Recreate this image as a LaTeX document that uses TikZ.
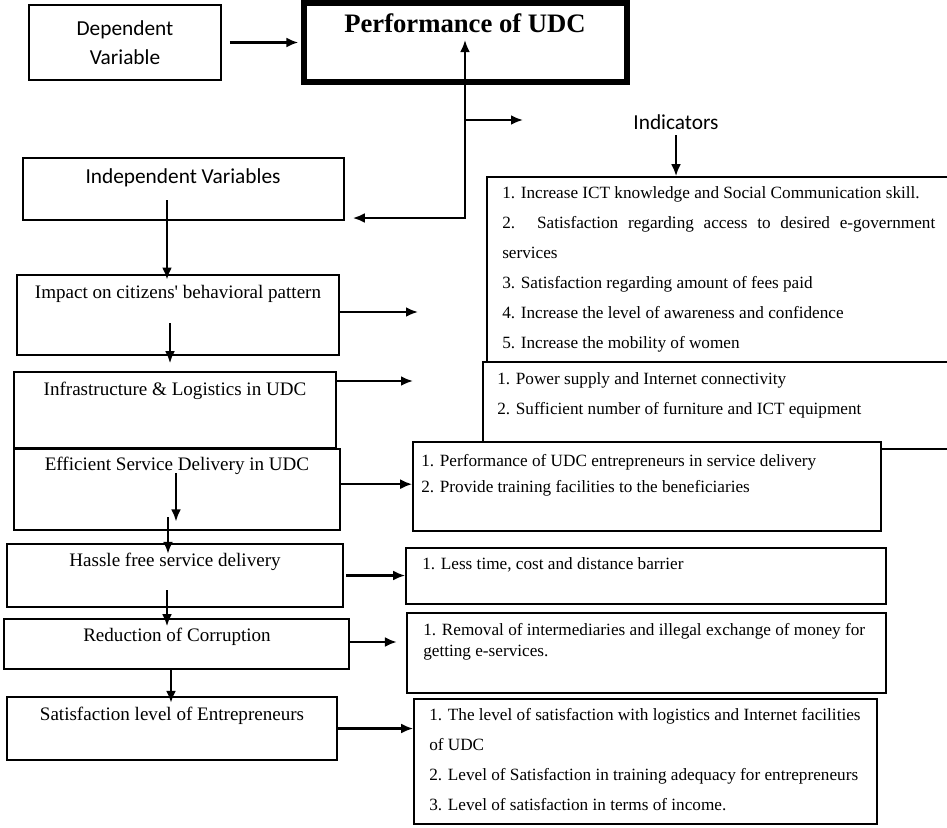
\documentclass[tikz,border=0pt]{standalone}
\usepackage{fontspec}
\setmainfont{Liberation Serif}
\newfontfamily\calibri{Carlito}
\usepackage{tikz}
\usetikzlibrary{arrows.meta,positioning,fit}

\tikzset{
  box/.style={draw, line width=1.2pt, inner sep=0pt, fill=white},
  thickbox/.style={draw, line width=4.5pt, inner sep=0pt},
  lbl/.style={font=\fontsize{14.3}{17}\selectfont, inner sep=0pt, text height=1.5ex, text depth=.25ex},
  sanslbl/.style={font=\calibri\fontsize{16}{21.75}\selectfont, inner sep=0pt, align=center},
  titlelbl/.style={font=\bfseries\fontsize{20}{24}\selectfont, inner sep=0pt},
  item/.style={font=\fontsize{12.9}{15}\selectfont, inner sep=0pt, anchor=west, text height=1.5ex, text depth=.25ex},
  arr/.style={-{Latex[length=9pt,width=7.5pt]}, line width=1.8pt},
  dblarr/.style={{Latex[length=9pt,width=7.5pt]}-{Latex[length=9pt,width=7.5pt]}, line width=1.8pt},
}

\begin{document}
\begin{tikzpicture}[x=0.75pt,y=-0.75pt]
        % Frame
        \useasboundingbox (0,0) rectangle (947,828);
        \clip (0,0) rectangle (947,828);

        % Dependent variable
        \node[box, fit={(29,5) (221,80)}] (depbox) {};
        \node[sanslbl] (deptxt) at (125,43) {Dependent\\Variable};
        \node[thickbox, fit={(304,3) (627,82)}] (perfbox) {};
        \node[titlelbl, anchor=base] (perftxt) at (465,32) {Performance of UDC};
        \draw[arr, shorten <=6pt, shorten >=2pt] (depbox) -- (perfbox);

        % Independent variables (left column)
        \node[box, fit={(23,158) (344,220)}] (indbox) {};
        \node[box, fit={(17,275) (339,355)}] (impbox) {};
        \node[box, fit={(14,372) (336,448)}] (infbox) {};
        \node[box, fit={(14,449) (340,530)}] (effbox) {};
        \node[box, fit={(7,544) (343,607)}] (hasbox) {};
        \node[box, fit={(4,619) (349,669)}] (redbox) {};
        \node[box, fit={(7,697) (337,760)}] (satbox) {};
        \node[sanslbl] (indtxt) at (183,178) {Independent Variables};
        \node[lbl] (imptxt) at (178,295) {Impact on citizens\textquotesingle{} behavioral pattern};
        \node[lbl] (inftxt) at (175,392) {Infrastructure \& Logistics in UDC};
        \node[lbl] (efftxt) at (177,467) {Efficient Service Delivery in UDC};
        \node[lbl] (hastxt) at (175,563) {Hassle free service delivery};
        \node[lbl] (redtxt) at (177,638) {Reduction of Corruption};
        \node[lbl] (sattxt) at (172,717) {Satisfaction level of Entrepreneurs};

        % Link to performance
        \coordinate (ivbend) at (465,218);
        \coordinate (ivtip) at (465,40);
        \coordinate (brtip) at (523,120);
        \draw[dblarr, shorten <=6pt] (indbox.east |- ivbend) -- (ivbend) -- (ivtip);
        \draw[arr] (ivtip |- brtip) -- (brtip);

        % Downward chain
        \coordinate (s1) at (167,200);
        \coordinate (s2) at (170,323);
        \coordinate (s3) at (176,473);
        \coordinate (s4) at (168,517);
        \coordinate (s5) at (167,590);
        \coordinate (s6) at (171,668);
        \draw[arr, shorten >=-4pt] (s1) -- (s1 |- impbox.north);
        \draw[arr, shorten >=6pt] (s2) -- (s2 |- infbox.north);
        \draw[arr, shorten >=7pt] (s3) -- (s3 |- effbox.south);
        \draw[arr, shorten >=-8pt] (s4) -- (s4 |- hasbox.north);
        \draw[arr, shorten >=-6pt] (s5) -- (s5 |- redbox.north);
        \draw[arr, shorten >=-5pt] (s6) -- (s6 |- satbox.north);

        % Indicator boxes
        \node[sanslbl] (indictxt) at (676,122) {Indicators};
        \node[box, fit={(487,177) (955,362)}] (impind) {};
        \node[box, fit={(483,362) (955,449)}] (infind) {};
        \node[box, fit={(413,442) (881,531)}] (effind) {};
        \node[box, fit={(406,548) (886,604)}] (hasind) {};
        \node[box, fit={(407,613) (886,693)}] (redind) {};
        \node[box, fit={(414,699) (877,824)}] (satind) {};
        \draw[arr, shorten <=4pt] (indictxt.south) -- (indictxt.south |- impind.north);

        \node[item] (impi1) at (502,195) {1. Increase ICT knowledge and Social Communication skill.};
        \node[item] (impi2) at (502,225) {\makebox[324.75pt][s]{2. Satisfaction regarding access to desired e-government}};
        \node[item] (impi3) at (502,255) {services};
        \node[item] (impi4) at (502,285) {3. Satisfaction regarding amount of fees paid};
        \node[item] (impi5) at (502,315) {4. Increase the level of awareness and confidence};
        \node[item] (impi6) at (502,345) {5. Increase the mobility of women};

        \node[item] (infi1) at (497,381) {1. Power supply and Internet connectivity};
        \node[item] (infi2) at (497,411) {2. Sufficient number of furniture and ICT equipment};

        \node[item] (effi1) at (421,463) {1. Performance of UDC entrepreneurs in service delivery};
        \node[item] (effi2) at (421,489) {2. Provide training facilities to the beneficiaries};

        \node[item] (hasi1) at (422,566) {1. Less time, cost and distance barrier};

        \node[item] (redi1) at (423,632) {1. Removal of intermediaries and illegal exchange of money for};
        \node[item] (redi2) at (423,653) {getting e-services.};

        \node[item] (sati1) at (429,717) {1. The level of satisfaction with logistics and Internet facilities};
        \node[item] (sati2) at (429,747) {of UDC};
        \node[item] (sati3) at (429,777) {2. Level of Satisfaction in training adequacy for entrepreneurs};
        \node[item] (sati4) at (429,807) {3. Level of satisfaction in terms of income.};

        % Arrows to indicators
        \coordinate (imptip) at (418,312);
        \coordinate (inftip) at (413,381);
        \draw[arr] (impbox.east |- imptip) -- (imptip);
        \draw[arr] (infbox.east |- inftip) -- (inftip);
        \draw[arr] ([yshift=4pt]effbox.east) -- ([yshift=4pt]effbox.east -| effind.west);
        \draw[arr, shorten <=2pt] (hasbox.east) -- (hasbox.east -| hasind.west);
        \draw[arr, shorten >=7pt] ([yshift=1.5pt]redbox.east) -- ([yshift=1.5pt]redbox.east -| redind.west);
        \draw[arr] (satbox.east) -- (satbox.east -| satind.west);
    \end{tikzpicture}
\end{document}
